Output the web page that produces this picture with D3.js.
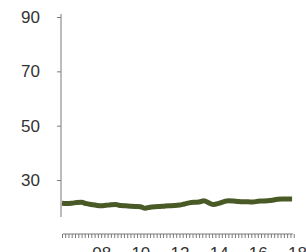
<!DOCTYPE html>
<html>
<head>
<meta charset="utf-8">
<script src="https://cdn.jsdelivr.net/npm/d3@7"></script>
<style>
  body { margin: 0; background: #fff; }
  svg { display: block; }
  .axis text { font-family: "Liberation Sans", Arial, sans-serif; font-size: 17px; fill: #333; }
  .axis path, .axis line { stroke: #7a7a7a; }
</style>
</head>
<body>
<script>
// quarterly readings, 2006 Q1 .. 2017 Q4
const startYear = 2006;
const values = [
  21.5, 21.4, 21.5, 21.7, 21.8, 21.3, 21.0, 20.7,
  20.5, 20.7, 20.9, 21.0, 20.6, 20.5, 20.4, 20.3,
  20.2, 19.6, 20.0, 20.2, 20.3, 20.4, 20.5, 20.6,
  20.8, 21.2, 21.6, 21.8, 21.9, 22.4, 21.6, 21.0,
  21.4, 22.0, 22.4, 22.3, 22.1, 22.0, 22.0, 21.9,
  22.2, 22.3, 22.4, 22.6, 22.9, 23.0, 23.0, 23.0
];
const yTicks = [30, 50, 70, 90];
const xLabelYears = [2008, 2010, 2012, 2014, 2016, 2018];

const width = 306, height = 252;

const data = values.map((v, i) => ({
  date: new Date(startYear, i * 3, 1),
  value: v
}));

const svg = d3.select("body").append("svg")
  .attr("width", width)
  .attr("height", height);

const x = d3.scaleTime()
  .domain([new Date(2006, 0, 1), new Date(2018, 0, 1)])
  .range([62, 297]);

const y = d3.scaleLinear()
  .domain([16.4, 90])
  .range([217, 17]);

// y axis
svg.append("g")
  .attr("class", "axis")
  .attr("transform", "translate(61,0)")
  .call(d3.axisLeft(y).tickValues(yTicks).tickSize(4).tickSizeOuter(0).tickPadding(17))
  .call(g => g.select(".domain").attr("d", `M0,${y(90) - 3}V${y.range()[0]}`));

// x axis: minor ticks every 2 months, labels on even years
const fmt = d3.timeFormat("%y");
svg.append("g")
  .attr("class", "axis")
  .attr("transform", "translate(0,234)")
  .call(d3.axisBottom(x)
    .ticks(d3.timeMonth.every(2))
    .tickSize(4)
    .tickSizeOuter(0)
    .tickPadding(9)
    .tickFormat(d => (d.getMonth() === 0 && xLabelYears.includes(d.getFullYear())) ? fmt(d) : ""))
  .call(g => g.select(".domain").attr("d", `M63,0H293`))
  .call(g => g.selectAll(".tick").filter(d => d > new Date(2017, 11, 1)).select("line").remove());

// line
const line = d3.line()
  .x(d => x(d.date))
  .y(d => y(d.value))
  .curve(d3.curveMonotoneX);

svg.append("path")
  .datum(data)
  .attr("fill", "none")
  .attr("stroke", "#4a5a26")
  .attr("stroke-width", 5)
  .attr("stroke-linejoin", "round")
  .attr("d", line);
</script>
</body>
</html>
